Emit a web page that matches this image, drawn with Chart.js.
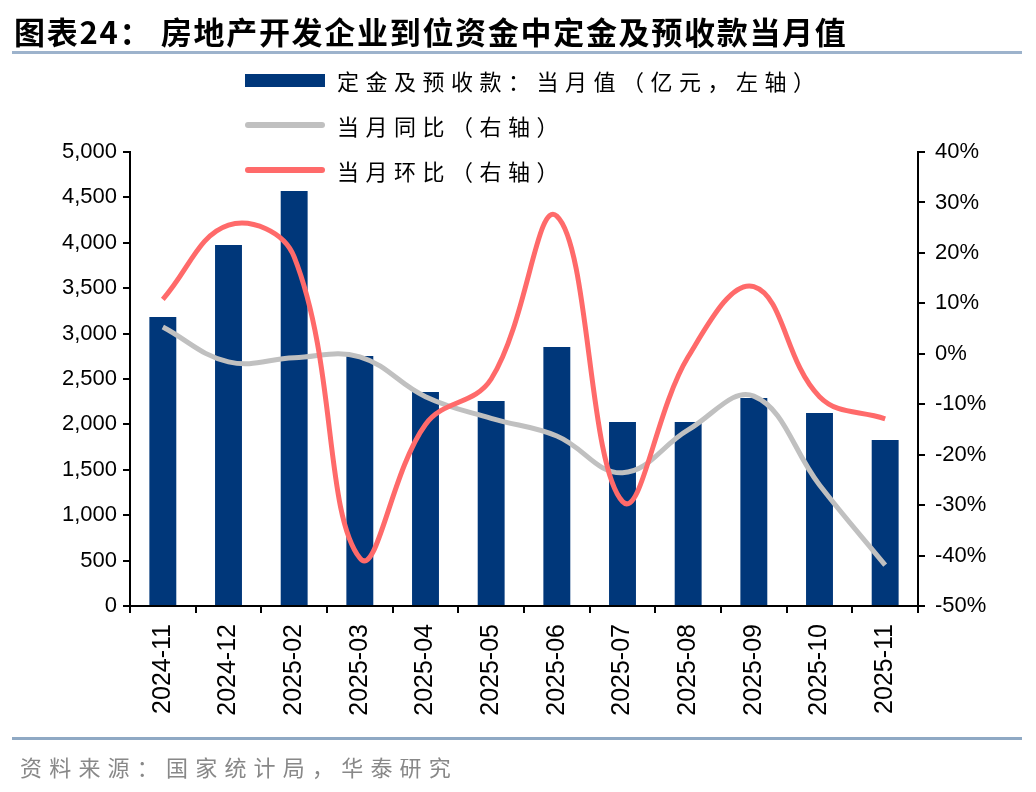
<!DOCTYPE html>
<html>
<head>
<meta charset="utf-8">
<script src="https://cdn.jsdelivr.net/npm/chart.js@4.4.1/dist/chart.umd.min.js"></script>
<style>
  body { margin: 0; background: #fff; }
  #wrap { position: relative; width: 1036px; height: 792px; font-family: "Noto Sans CJK SC", sans-serif; }
  #title { position: absolute; left: 14px; top: 8px; font-size: 31px; font-weight: bold; color: #000; letter-spacing: 1.7px; white-space: nowrap; }
  .rule { position: absolute; left: 12px; width: 1010px; height: 3px; background: #9db3cc; }
  .leg { position: absolute; left: 245px; font-size: 22px; color: #000; display: flex; align-items: center; letter-spacing: 6.5px; white-space: nowrap; }
  .leg span.mk { display: inline-block; width: 80px; margin-right: 12px; }
  #source { position: absolute; left: 20px; top: 750px; font-size: 22px; color: #888; letter-spacing: 7.2px; white-space: nowrap; }
  canvas { position: absolute; left: 0; top: 0; }
</style>
</head>
<body>
<div id="wrap">
  <canvas id="c" width="1036" height="792"></canvas>
  <div id="title">图表24：&nbsp;房地产开发企业到位资金中定金及预收款当月值</div>
  <div class="rule" style="top:51px"></div>
  <div class="leg" style="top:64px"><span class="mk" style="height:13px;background:#00377a"></span>定金及预收款：当月值（亿元，左轴）</div>
  <div class="leg" style="top:109px"><span class="mk" style="height:6px;border-radius:3px;background:#c0c0c0"></span>当月同比（右轴）</div>
  <div class="leg" style="top:154px"><span class="mk" style="height:6px;border-radius:3px;background:#ff6a6a"></span>当月环比（右轴）</div>
  <div class="rule" style="top:737px;background:#8fa9c4"></div>
  <div id="source">资料来源：国家统计局，华泰研究</div>
</div>
<script>
const months = ['2024-11', '2024-12', '2025-02', '2025-03', '2025-04', '2025-05',
                '2025-06', '2025-07', '2025-08', '2025-09', '2025-10', '2025-11'];
const deposits = [3183, 3976, 4570, 2753, 2357, 2258, 2852, 2026, 2026, 2291, 2126, 1828];
const yoy = [5.3, -1.6, -0.8, -0.6, -8.5, -12.8, -16.3, -23.6, -15.1, -8.4, -26, -41.9];
const mom = [10.8, 25.5, 19.2, -40.5, -14, -5, 27.3, -29.3, -0.6, 13.3, -8.5, -12.9];

const tickFont = { family: 'Arial, "Liberation Sans"', size: 22 };

new Chart(document.getElementById('c').getContext('2d'), {
    type: 'bar',
    data: {
        labels: months,
        datasets: [
            {
                label: '当月环比（右轴）',
                type: 'line',
                data: mom,
                yAxisID: 'y2',
                borderColor: '#ff6a6a',
                borderWidth: 5,
                pointRadius: 0,
                tension: 0.4,
                order: 1
            },
            {
                label: '当月同比（右轴）',
                type: 'line',
                data: yoy,
                yAxisID: 'y2',
                borderColor: '#c0c0c0',
                borderWidth: 5,
                pointRadius: 0,
                tension: 0.4,
                order: 2
            },
            {
                label: '定金及预收款：当月值（亿元，左轴）',
                data: deposits,
                yAxisID: 'y',
                backgroundColor: '#00377a',
                barPercentage: 0.41,
                categoryPercentage: 1,
                order: 3
            }
        ]
    },
    options: {
        responsive: false,
        animation: false,
        layout: { padding: { top: 152, left: 0, right: 0, bottom: 0 } },
        plugins: { legend: { display: false }, tooltip: { enabled: false } },
        scales: {
            x: {
                offset: true,
                grid: { offset: true, drawOnChartArea: false, drawTicks: true, tickLength: 7, color: '#000', lineWidth: 2 },
                border: { display: true, color: '#000', width: 2 },
                ticks: { color: '#000', font: { family: 'Arial, "Liberation Sans"', size: 25 }, minRotation: 90, maxRotation: 90, padding: 11, autoSkip: false },
                afterFit: (s) => { s.height = 186; }
            },
            y: {
                position: 'left',
                min: 0, max: 5000,
                grid: { drawOnChartArea: false, tickLength: 7, color: '#000', lineWidth: 2 },
                border: { display: true, color: '#000', width: 2 },
                ticks: { stepSize: 500, color: '#000', font: tickFont, padding: 6,
                         callback: (v) => v.toLocaleString('en-US') },
                afterFit: (s) => { s.width = 130; }
            },
            y2: {
                position: 'right',
                min: -50, max: 40,
                grid: { drawOnChartArea: false, tickLength: 7, color: '#000', lineWidth: 2 },
                border: { display: true, color: '#000', width: 2 },
                ticks: { stepSize: 10, color: '#000', font: tickFont, padding: 10,
                         callback: (v) => v + '%' },
                afterFit: (s) => { s.width = 118; }
            }
        }
    }
});
</script>
</body>
</html>
